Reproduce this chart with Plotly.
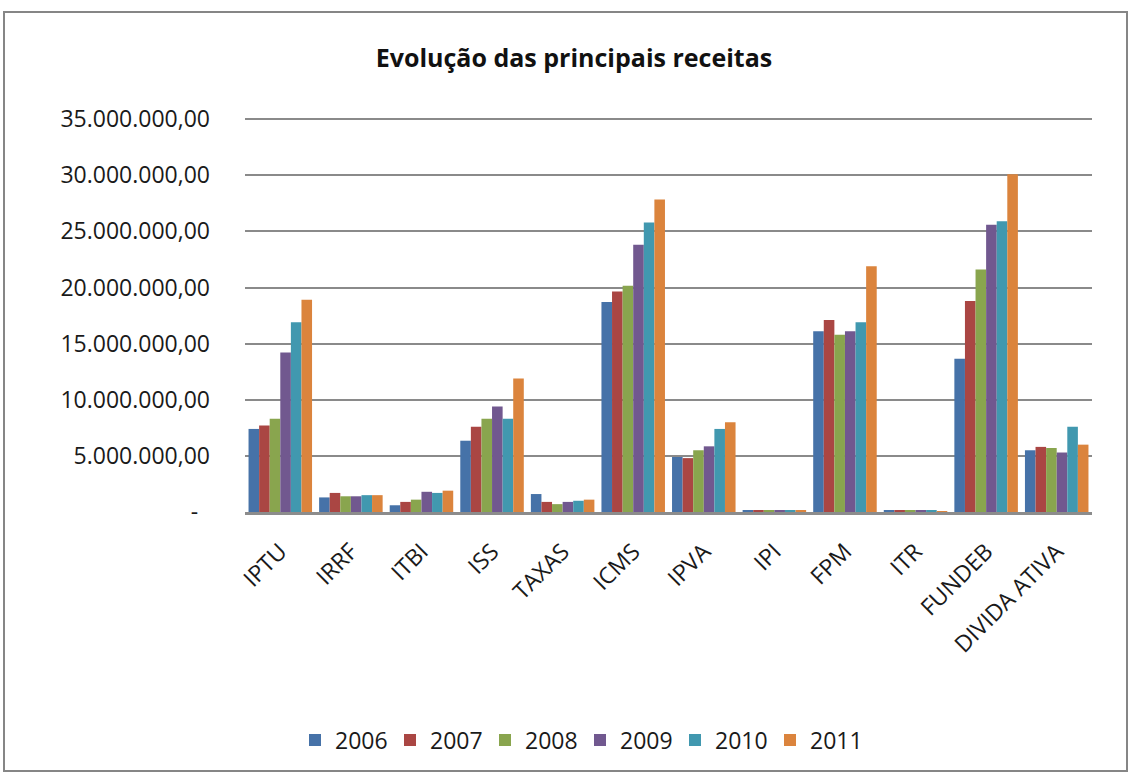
import plotly.graph_objects as go

categories = ["IPTU", "IRRF", "ITBI", "ISS", "TAXAS", "ICMS", "IPVA", "IPI", "FPM", "ITR", "FUNDEB", "DIVIDA ATIVA"]
years = ["2006", "2007", "2008", "2009", "2010", "2011"]

v2006 = [7.4e6, 1.3e6, 0.6e6, 6.35e6, 1.6e6, 18.7e6, 4.9e6, 0.15e6, 16.1e6, 0.1e6, 13.65e6, 5.5e6]
v2007 = [7.7e6, 1.7e6, 0.9e6, 7.6e6, 0.9e6, 19.65e6, 4.8e6, 0.15e6, 17.1e6, 0.1e6, 18.8e6, 5.8e6]
v2008 = [8.3e6, 1.4e6, 1.1e6, 8.3e6, 0.7e6, 20.15e6, 5.5e6, 0.15e6, 15.8e6, 0.1e6, 21.6e6, 5.7e6]
v2009 = [14.2e6, 1.4e6, 1.8e6, 9.4e6, 0.9e6, 23.8e6, 5.85e6, 0.15e6, 16.1e6, 0.12e6, 25.6e6, 5.3e6]
v2010 = [16.9e6, 1.5e6, 1.7e6, 8.3e6, 1.0e6, 25.8e6, 7.4e6, 0.15e6, 16.9e6, 0.1e6, 25.9e6, 7.6e6]
v2011 = [18.9e6, 1.5e6, 1.9e6, 11.9e6, 1.1e6, 27.85e6, 8.0e6, 0.15e6, 21.9e6, 0.08e6, 30.1e6, 6.0e6]
series = [v2006, v2007, v2008, v2009, v2010, v2011]

colors = ["#4672A8", "#AA4643", "#89A54E", "#71588F", "#4198AF", "#DB843D"]

tick_vals = [0, 5e6, 10e6, 15e6, 20e6, 25e6, 30e6, 35e6]
tick_text = ["-\u00a0\u00a0", "5.000.000,00", "10.000.000,00", "15.000.000,00", "20.000.000,00",
             "25.000.000,00", "30.000.000,00", "35.000.000,00"]

FONT = "Open Sans, Noto Sans, sans-serif"

fig = go.Figure()
for yr, vals, c in zip(years, series, colors):
    fig.add_trace(go.Bar(name=yr, x=categories, y=vals, marker=dict(color=c, line=dict(width=0))))

W, H = 1131, 774
L, R, T, B = 245, 39, 118, 262
pw = W - L - R
ph = H - T - B

def px(x):
    return (x - L) / pw

def py(y):
    return (H - B - y) / ph

fig.update_layout(
    width=W, height=H,
    margin=dict(l=L, r=R, t=T, b=B),
    paper_bgcolor="white", plot_bgcolor="white",
    barmode="group", bargap=0.1, bargroupgap=0,
    font=dict(family=FONT, color="#1a1a1a", size=23),
    title=dict(text="<b>Evolução das principais receitas</b>", x=px(574), xref="paper", xanchor="center",
               y=1 - 58 / H, yref="container", yanchor="middle",
               font=dict(family=FONT, size=25, color="#111111")),
    showlegend=True,
    legend=dict(orientation="h", x=px(580), xanchor="center", y=py(740), yanchor="middle",
                font=dict(family=FONT, size=23, color="#1a1a1a"), itemwidth=30,
                entrywidth=50, entrywidthmode="pixels",
                bgcolor="rgba(0,0,0,0)"),
    xaxis=dict(tickangle=-45, showgrid=False, showline=True, linecolor="#8c8c8c", linewidth=3,
               ticks="", tickfont=dict(family=FONT, size=23), ticklabelstandoff=14),
    yaxis=dict(range=[0, 35.1e6], tickvals=tick_vals, ticktext=tick_text, showgrid=True,
               gridcolor="#8a8a8a", gridwidth=2, zeroline=False, showline=False, ticks="",
               ticklabelstandoff=34, tickfont=dict(family=FONT, size=23)),
    shapes=[dict(type="rect", xref="paper", yref="paper", x0=px(4), x1=px(1127), y0=py(771), y1=py(12),
                 line=dict(color="#868686", width=2), fillcolor="rgba(0,0,0,0)", layer="below")],
)

fig.write_html("out.html", config={"displayModeBar": False},
               post_script="document.body.style.margin='0';document.body.style.overflow='hidden';")
